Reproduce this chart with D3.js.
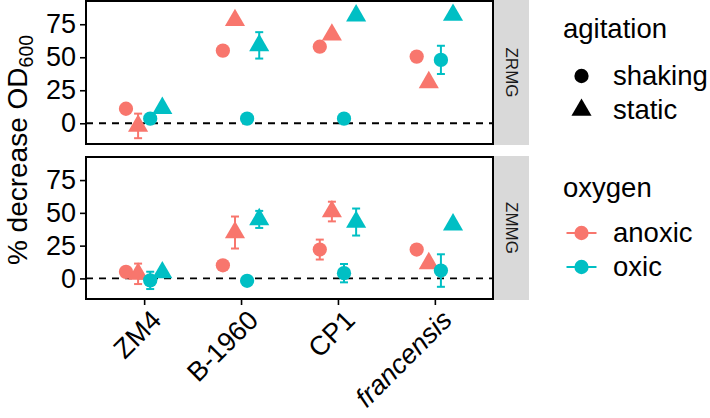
<!DOCTYPE html>
<html><head><meta charset="utf-8">
<script src="https://cdn.jsdelivr.net/npm/d3@7/dist/d3.min.js"></script>
<style>body{margin:0;background:#fff}svg{display:block;font-family:"Liberation Sans",Arial,sans-serif}</style>
</head><body><svg id="c" width="710" height="418"></svg>
<script>
// ---- data ----
const categories = ["ZM4", "B-1960", "CP1", "francensis"];
const panels = ["ZRMG", "ZMMG"];
const oxygenLevels = ["anoxic", "oxic"];
const agitationLevels = ["shaking", "static"];
const yTicks = [0, 25, 50, 75];

// ZRMG panel (mean % decrease, error half-width)
const zrmg_anoxic_shaking = [11, 55, 58, 50.5];
const zrmg_anoxic_static  = [-2, 78, 67, 31];
const zrmg_oxic_shaking   = [3.5, 3.5, 3.5, 48];
const zrmg_oxic_static    = [11.5, 59, 81.5, 82];
const zrmg_anoxic_shaking_err = [1, 3.5, 2, 1];
const zrmg_anoxic_static_err  = [9.3, 1.5, 1.5, 2];
const zrmg_oxic_shaking_err   = [1.5, 1, 1, 10.7];
const zrmg_oxic_static_err    = [1, 10, 1.5, 3];

// ZMMG panel
const zmmg_anoxic_shaking = [5, 10, 22, 22];
const zmmg_anoxic_static  = [3.5, 35, 51, 11.5];
const zmmg_oxic_shaking   = [-1.5, -1.8, 4, 6];
const zmmg_oxic_static    = [4.5, 45, 43, 41];
const zmmg_anoxic_shaking_err = [1.5, 1, 7.6, 1.5];
const zmmg_anoxic_static_err  = [7.8, 12.2, 7.5, 1.5];
const zmmg_oxic_shaking_err   = [6.6, 2.5, 7, 12.4];
const zmmg_oxic_static_err    = [1, 6.5, 10.3, 1.5];

const seriesByPanel = {
  ZRMG: [
    {oxygen:"anoxic", agitation:"shaking", v:zrmg_anoxic_shaking, e:zrmg_anoxic_shaking_err},
    {oxygen:"anoxic", agitation:"static",  v:zrmg_anoxic_static,  e:zrmg_anoxic_static_err},
    {oxygen:"oxic",   agitation:"shaking", v:zrmg_oxic_shaking,   e:zrmg_oxic_shaking_err},
    {oxygen:"oxic",   agitation:"static",  v:zrmg_oxic_static,    e:zrmg_oxic_static_err}
  ],
  ZMMG: [
    {oxygen:"anoxic", agitation:"shaking", v:zmmg_anoxic_shaking, e:zmmg_anoxic_shaking_err},
    {oxygen:"anoxic", agitation:"static",  v:zmmg_anoxic_static,  e:zmmg_anoxic_static_err},
    {oxygen:"oxic",   agitation:"shaking", v:zmmg_oxic_shaking,   e:zmmg_oxic_shaking_err},
    {oxygen:"oxic",   agitation:"static",  v:zmmg_oxic_static,    e:zmmg_oxic_static_err}
  ]
};

// ---- layout ----
const svg = d3.select("#c");
const L = 86, R = 493, stripW = 35;
const panelBoxes = [{top:1, bottom:144}, {top:157, bottom:299}];
const color = d3.scaleOrdinal().domain(oxygenLevels).range(["#F8766D", "#00BFC4"]);
const shape = d3.scaleOrdinal().domain(agitationLevels).range([d3.symbolCircle, d3.symbolTriangle]);
const symSize = {shaking: 160, static: 175};

const x = d3.scalePoint().domain(categories).range([L, R]).padding(0.6);
const step = x.step();
const groupKeys = ["anoxic-shaking", "anoxic-static", "oxic-shaking", "oxic-static"];
const dodge = d3.scalePoint().domain(groupKeys).range([-0.25 * step, 0.25 * step]).padding(0.5);

const fontTick = 27;

panels.forEach((p, pi) => {
  const box = panelBoxes[pi];
  const y = d3.scaleLinear().domain([-15.7, 92.6]).range([box.bottom, box.top]);
  const g = svg.append("g");

  g.append("rect").attr("x", L).attr("y", box.top).attr("width", R - L).attr("height", box.bottom - box.top).attr("fill", "#fff");

  // zero reference line
  g.append("line").attr("x1", L).attr("x2", R).attr("y1", y(0)).attr("y2", y(0))
    .attr("stroke", "#000").attr("stroke-width", 1.8).attr("stroke-dasharray", "7,6");

  // y axis
  const ya = g.append("g").attr("transform", `translate(${L},0)`)
    .call(d3.axisLeft(y).tickValues(yTicks).tickSize(6).tickPadding(4));
  ya.select(".domain").remove();
  ya.selectAll(".tick line").attr("stroke", "#000").attr("stroke-width", 1.6);
  ya.selectAll(".tick text").attr("font-size", fontTick).attr("fill", "#000")
    .attr("font-family", "Liberation Sans, Arial, sans-serif");

  // series
  seriesByPanel[p].forEach(s => {
    const key = s.oxygen + "-" + s.agitation;
    const col = color(s.oxygen);
    const data = categories.map((c, i) => ({c, v: s.v[i], e: s.e[i]}));
    const cx = d => x(d.c) + dodge(key);
    const eg = g.append("g").attr("stroke", col).attr("stroke-width", 2);
    eg.selectAll("line.v").data(data).enter().append("line")
      .attr("x1", cx).attr("x2", cx).attr("y1", d => y(d.v - d.e)).attr("y2", d => y(d.v + d.e));
    eg.selectAll("line.t").data(data).enter().append("line")
      .attr("x1", d => cx(d) - 4).attr("x2", d => cx(d) + 4).attr("y1", d => y(d.v + d.e)).attr("y2", d => y(d.v + d.e));
    eg.selectAll("line.b").data(data).enter().append("line")
      .attr("x1", d => cx(d) - 4).attr("x2", d => cx(d) + 4).attr("y1", d => y(d.v - d.e)).attr("y2", d => y(d.v - d.e));
    g.append("g").selectAll("path").data(data).enter().append("path")
      .attr("d", d3.symbol().type(shape(s.agitation)).size(symSize[s.agitation]))
      .attr("transform", d => `translate(${cx(d)},${y(d.v)})`)
      .attr("fill", col);
  });

  // panel border
  g.append("rect").attr("x", L).attr("y", box.top).attr("width", R - L).attr("height", box.bottom - box.top)
    .attr("fill", "none").attr("stroke", "#000").attr("stroke-width", 2);

  // strip
  g.append("rect").attr("x", R + 1).attr("y", box.top - 1).attr("width", stripW).attr("height", box.bottom - box.top + 2)
    .attr("fill", "#D9D9D9");
  g.append("text").attr("transform", `translate(${R + 1 + stripW / 2},${(box.top + box.bottom) / 2}) rotate(90)`)
    .attr("text-anchor", "middle").attr("dominant-baseline", "central")
    .attr("font-size", 17).attr("fill", "#1A1A1A").text(p);

  // x axis on bottom panel
  if (pi === panels.length - 1) {
    const xa = g.append("g").attr("transform", `translate(0,${box.bottom})`)
      .call(d3.axisBottom(x).tickSize(6).tickFormat(""));
    xa.select(".domain").remove();
    xa.selectAll(".tick line").attr("stroke", "#000").attr("stroke-width", 1.6);
    g.append("g").selectAll("text").data(categories).enter().append("text")
      .attr("transform", d => `translate(${x(d) + 5},${box.bottom + 9}) rotate(-45)`)
      .attr("text-anchor", "end").attr("dy", "0.72em")
      .attr("font-size", 27).attr("fill", "#000")
      .attr("font-style", d => d === "francensis" ? "italic" : "normal")
      .text(d => d);
  }
});

// y axis title
const yt = svg.append("text")
  .attr("transform", `translate(27,${(panelBoxes[0].top + panelBoxes[1].bottom) / 2}) rotate(-90)`)
  .attr("text-anchor", "middle").attr("font-size", 28).attr("fill", "#000");
yt.append("tspan").text("% decrease OD");
yt.append("tspan").attr("font-size", 19.5).attr("dy", 6).text("600");

// ---- legends ----
const lg = svg.append("g");
const legX = 563, keyX = 581.5, labX = 613;
lg.append("text").attr("x", legX).attr("y", 38).attr("font-size", 27.5).text("agitation");
agitationLevels.forEach((a, i) => {
  const cy = 76 + i * 34;
  lg.append("path").attr("d", d3.symbol().type(shape(a)).size(symSize[a]))
    .attr("transform", `translate(${keyX},${cy})`).attr("fill", "#000");
  lg.append("text").attr("x", labX).attr("y", cy + 9).attr("font-size", 27.5).text(a);
});
lg.append("text").attr("x", legX).attr("y", 197).attr("font-size", 27.5).text("oxygen");
oxygenLevels.forEach((o, i) => {
  const cy = 233 + i * 34;
  lg.append("line").attr("x1", keyX - 15).attr("x2", keyX + 15).attr("y1", cy).attr("y2", cy)
    .attr("stroke", color(o)).attr("stroke-width", 2);
  lg.append("path").attr("d", d3.symbol().type(d3.symbolCircle).size(160))
    .attr("transform", `translate(${keyX},${cy})`).attr("fill", color(o));
  lg.append("text").attr("x", labX).attr("y", cy + 9).attr("font-size", 27.5).text(o);
});
</script></body></html>
